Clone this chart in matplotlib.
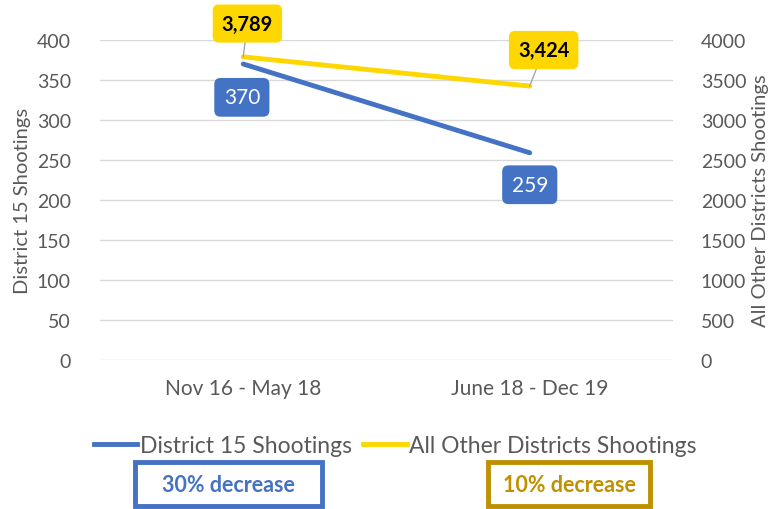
import matplotlib
matplotlib.use("Agg")
import matplotlib.pyplot as plt
from matplotlib.patches import Rectangle
from matplotlib.lines import Line2D

plt.rcParams['font.family'] = ['Lato', 'DejaVu Sans']

periods = ["Nov 16 - May 18", "June 18 - Dec 19"]
district15 = [370, 259]
other_districts = [3789, 3424]
changes = ["30% decrease", "10% decrease"]

blue = "#4472C4"
yellow = "#FFD700"
gold = "#BF9000"
grey_txt = "#595959"

fig = plt.figure(figsize=(7.81, 5.10), dpi=100)
ax = fig.add_axes([100 / 781, 149 / 510, 573 / 781, 320 / 510])
ax2 = ax.twinx()

x = [0, 1]
ax.plot(x, district15, color=blue, lw=3.5, solid_capstyle='round', zorder=3)
ax2.plot(x, other_districts, color=yellow, lw=3.5, solid_capstyle='round', zorder=3)

ax.set_xlim(-0.5, 1.5)
ax.set_ylim(0, 400)
ax2.set_ylim(0, 4000)
ax.set_yticks(range(0, 401, 50))
ax2.set_yticks(range(0, 4001, 500))
ax.set_xticks(x)
ax.set_xticklabels(periods)

for a in (ax, ax2):
    for s in a.spines.values():
        s.set_visible(False)
    a.tick_params(length=0, labelsize=14, labelcolor=grey_txt)
ax.tick_params(axis='y', pad=21)
ax2.tick_params(axis='y', pad=20)
ax.tick_params(axis='x', pad=13, labelsize=15)
ax.grid(axis='y', color="#D9D9D9", lw=1)
ax.set_axisbelow(True)

ax.set_ylabel("District 15 Shootings", fontsize=14.5, color=grey_txt, labelpad=4)
ax2.set_ylabel("All Other Districts Shootings", fontsize=14.5, color=grey_txt, labelpad=4)

# data labels
blue_offsets = [(-1, -24), (0, -23)]
for xi, v, off in zip(x, district15, blue_offsets):
    ax.annotate(f"{v:,}", (xi, v), xytext=off, textcoords='offset points',
                ha='center', va='center', fontsize=15, color='white',
                bbox=dict(boxstyle='round,pad=0.45,rounding_size=0.3', fc=blue, ec='none'),
                zorder=5)

yellow_offsets = [(3, 24), (10, 26)]
for xi, v, off in zip(x, other_districts, yellow_offsets):
    ax2.annotate(f"{v:,}", (xi, v), xytext=off, textcoords='offset points',
                 ha='center', va='center', fontsize=14.5, color='black', fontweight='bold',
                 bbox=dict(boxstyle='round,pad=0.45,rounding_size=0.3', fc=yellow, ec='none'),
                 arrowprops=dict(arrowstyle='-', color='#A6A6A6', lw=1, shrinkA=0, shrinkB=0),
                 zorder=5)

# legend
handles = [Line2D([], [], color=blue, lw=3.5), Line2D([], [], color=yellow, lw=3.5)]
fig.legend(handles, ["District 15 Shootings", "All Other Districts Shootings"],
           loc='center', bbox_to_anchor=(395 / 781, 1 - 447 / 510), ncol=2, frameon=False,
           fontsize=16.5, labelcolor=grey_txt, handlelength=1.9, handletextpad=0.1,
           columnspacing=0.5)

# decrease boxes
boxes = [(135, 187, blue), (488, 162, gold)]
for (bx, bw, col), txt in zip(boxes, changes):
    fig.patches.append(Rectangle((bx / 781, 3 / 510), bw / 781, 44 / 510,
                                 transform=fig.transFigure, fill=False, ec=col, lw=3.5))
    fig.text((bx + bw / 2) / 781, 24 / 510, txt, ha='center', va='center',
             fontsize=15.5, fontweight='bold', color=col)

fig.savefig("out.png", dpi=100)
